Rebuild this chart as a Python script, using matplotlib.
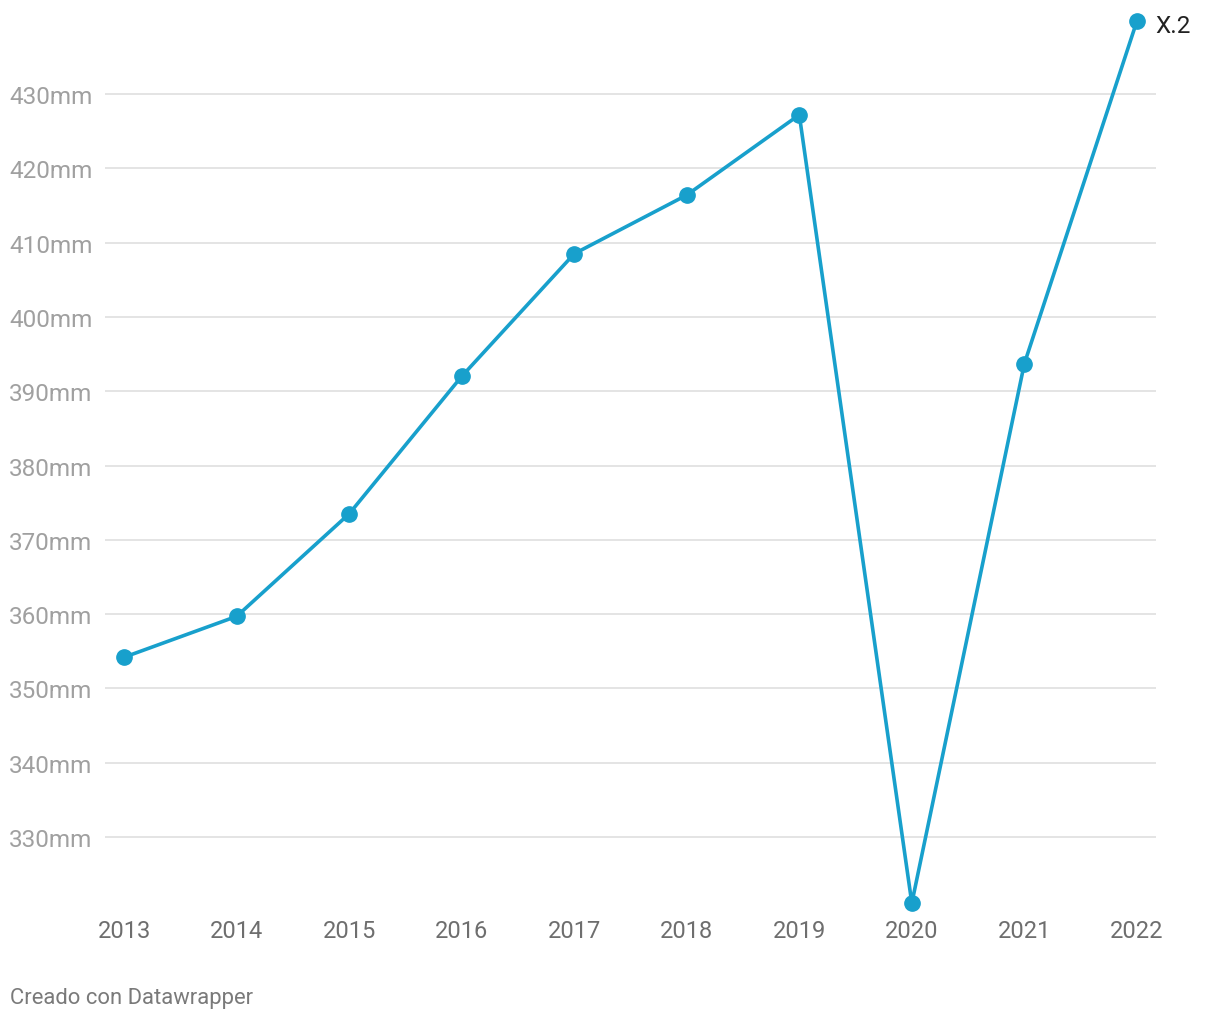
import matplotlib.pyplot as plt

YEARS = [2013, 2014, 2015, 2016, 2017, 2018, 2019, 2020, 2021, 2022]
VALUES = [354.2, 359.7, 373.5, 392.0, 408.5, 416.4, 427.2, 321.1, 393.7, 439.8]
Y_TICKS = [330, 340, 350, 360, 370, 380, 390, 400, 410, 420, 430]
SERIES_LABEL = "X.2"
CREDIT = "Creado con Datawrapper"

LINE_COLOR = "#18a0cc"

plt.rcParams["font.family"] = ["Roboto", "DejaVu Sans"]

fig = plt.figure(figsize=(12.2, 10.2), dpi=100)
ax = fig.add_axes([105 / 1220, 1 - 915 / 1020, 1051 / 1220, 905 / 1020])

ax.plot(YEARS, VALUES, color=LINE_COLOR, linewidth=2.6, marker="o",
        markersize=11, zorder=3, clip_on=False)
ax.annotate(SERIES_LABEL, (YEARS[-1], VALUES[-1]), xytext=(13, -3),
            textcoords="offset points", va="center", ha="left",
            fontsize=17.5, color="#222222")

ax.set_xlim(2012.83, 2022.17)
ax.set_ylim(319.64, 441.44)

ax.set_yticks(Y_TICKS)
ax.set_yticklabels([f"{v}mm" for v in Y_TICKS])
ax.set_xticks(YEARS)
ax.set_xticklabels([str(y) for y in YEARS])

ax.grid(axis="y", color="#e4e4e4", linewidth=1.4)
ax.set_axisbelow(True)
for s in ax.spines.values():
    s.set_visible(False)

ax.tick_params(axis="y", length=0, pad=9, labelsize=17.5, labelcolor="#a0a0a0")
ax.tick_params(axis="x", length=0, pad=3.5, labelsize=17, labelcolor="#6e6e6e")

fig.text(10 / 1220, 1 - 999 / 1020, CREDIT, fontsize=15.8, color="#7a7a7a",
         va="center", ha="left")

fig.savefig("out.png", dpi=100)
